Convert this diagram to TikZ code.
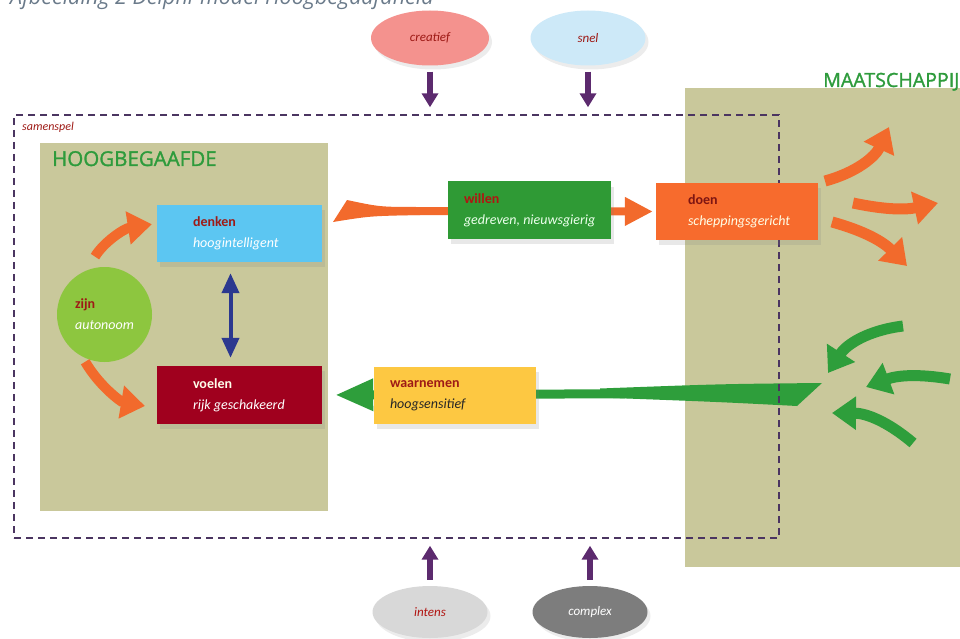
\documentclass[tikz,border=0pt]{standalone}
\usepackage{fontspec}
\setmainfont{Carlito}
\newfontfamily\titlefont[FakeBold=1.4]{Open Sans}
\newfontfamily\captionfont{Open Sans}
\usetikzlibrary{arrows.meta,positioning,shapes.geometric,shadows}

\definecolor{olive}{HTML}{C9C89B}
\definecolor{titlegreen}{HTML}{2E9B3C}
\definecolor{framepurple}{HTML}{4B3561}
\definecolor{arrowpurple}{HTML}{5C2A6E}
\definecolor{labelred}{HTML}{9E1A16}
\definecolor{flowred}{HTML}{F26A2C}
\definecolor{flowgreen}{HTML}{2E9E3B}
\definecolor{denkenblue}{HTML}{5CC6F2}
\definecolor{voelenred}{HTML}{A0001E}
\definecolor{zijngreen}{HTML}{8DC63F}
\definecolor{willengreen}{HTML}{2F9A35}
\definecolor{doenorange}{HTML}{F76B2D}
\definecolor{waarneemgeel}{HTML}{FDC842}
\definecolor{creatiefpink}{HTML}{F4928E}
\definecolor{snelblue}{HTML}{CDE9F8}
\definecolor{intensgrey}{HTML}{D8D8D8}
\definecolor{complexgrey}{HTML}{7D7D7D}
\definecolor{captiongrey}{HTML}{6A7A8A}
\definecolor{arrowblue}{HTML}{2B388F}

\begin{document}
\begin{tikzpicture}[x=1pt,y=-1pt,
	olivebox/.style={rectangle, fill=olive, inner sep=0pt},
	bigtitle/.style={anchor=base west, inner sep=0pt, text=titlegreen, font=\titlefont\fontsize{20.5}{22}\selectfont},
	box/.style={rectangle, inner sep=0pt, minimum width=163pt, minimum height=57pt,
		drop shadow={opacity=.18, shadow xshift=3pt, shadow yshift=-5pt}},
	boxtext/.style={inner sep=0pt, align=left, font=\fontsize{14}{21}\selectfont},
	oval/.style={ellipse, inner sep=0pt, minimum width=118pt, minimum height=55pt,
		font=\itshape\fontsize{13}{15}\selectfont,
		drop shadow={opacity=.15, shadow xshift=3pt, shadow yshift=-4pt}},
	pushdown/.style={arrowpurple, line width=6pt, -{Triangle[length=14pt,width=16pt]}},
	flowO/.style={flowred, line width=8pt, -{Triangle[length=28pt,width=27pt]}},
	flowG/.style={flowgreen, line width=9pt, -{Triangle[length=38pt,width=30pt]}},
	fanO/.style={flowred, line width=11pt, -{Triangle[length=24pt,width=32pt]}},
	fanG/.style={flowgreen, line width=11pt, -{Triangle[length=24pt,width=32pt]}},
	both/.style={arrowblue, line width=4pt, {Triangle[length=20pt,width=17pt]}-{Triangle[length=20pt,width=17pt]}}]

	\useasboundingbox (0,0) rectangle (960,639);
	\clip (0,0) rectangle (960,639);

	% caption, cut off at the top
	\node[anchor=base west, inner sep=0pt, text=captiongrey, font=\captionfont\itshape\fontsize{21.5}{24}\selectfont] (caption) at (10,5) {Afbeelding 2 Delphi-model Hoogbegaafdheid};

	% the two fields
	\node[olivebox, minimum width=288pt, minimum height=368pt] (hoog) at (184,327) {};
	\node[bigtitle] (hoogtitle) at (52,166) {HOOGBEGAAFDE};
	\node[olivebox, minimum width=300pt, minimum height=479pt] (maatschappij) at (835,327.5) {};
	\node[bigtitle, font=\titlefont\fontsize{19.6}{22}\selectfont] (maattitle) at (823,87) {MAATSCHAPPIJ};

	% inner boxes
	\node[box, fill=denkenblue, minimum width=165pt] (denken) at (239.5,233.5) {};
	\node[boxtext, right=36pt of denken.west] (denkentxt) {{\bfseries\color{labelred}denken}\\{\itshape\color{white}hoogintelligent}};
	\node[box, fill=voelenred, minimum width=165pt, minimum height=58pt] (voelen) at (239.5,395) {};
	\node[boxtext, right=36pt of voelen.west] (voelentxt) {{\bfseries\color{white!92!yellow}voelen}\\{\itshape\color{white}rijk geschakeerd}};
	\node[circle, fill=zijngreen, minimum size=95pt, inner sep=0pt, align=left, font=\fontsize{14}{21}\selectfont] (zijn) at (104.5,314.5) {{\bfseries\color{labelred}zijn}\\{\itshape\color{white}autonoom}};

	\draw[fanO, line width=10pt, bend left=25, shorten <=16pt, shorten >=5pt] (zijn.112) to ([shift={(0,-10)}]denken.west);
	\draw[fanO, line width=10pt, bend right=25, shorten <=6pt, shorten >=12pt] (zijn.242) to ([shift={(0,13)}]voelen.west);
	\draw[both, shorten <=11pt, shorten >=8pt] ([xshift=-9pt]denken.south) -- ([xshift=-9pt]voelen.north);

	% green flow from outside to voelen
	\coordinate (gtail) at (805,393);
	\fill[flowgreen] (822,383) .. controls (720,384) .. (600,388.5) -- (600,397.5) .. controls (720,402) .. (797,406) -- cycle;
	\draw[flowG, shorten >=13pt] (gtail) -- (voelen.east);

	% samenspel frame
	\node[rectangle, draw=framepurple, line width=1.4pt, dash pattern=on 7pt off 5pt, minimum width=765pt, minimum height=423pt] (samenspel) at (396.5,326.5) {};
	\node[anchor=base west, inner sep=0pt, text=labelred, font=\itshape\fontsize{12}{14}\selectfont] (samenspeltxt) at (22,131) {samenspel};

	\node[box, fill=doenorange, minimum width=162pt] (doen) at (737,211.5) {};
	\node[boxtext, right=32pt of doen.west] (doentxt) {{\bfseries\color{labelred!80!black}doen}\\{\itshape\color{white!90!yellow}scheppingsgericht}};

	% orange flow from denken to doen
	\coordinate (otail) at (345,211);
	\fill[flowred] (347,200) .. controls (380,207) .. (420,207) -- (420,215) .. controls (370,216) .. (333,222) -- cycle;
	\draw[flowO, shorten >=3pt] (otail) -- (doen.west);

	\node[box, fill=willengreen] (willen) at (529.5,210) {};
	\node[boxtext, right=16pt of willen.west] (willentxt) {{\bfseries\color{labelred!80!red}willen}\\{\itshape\color{white!92!green}gedreven, nieuwsgierig}};
	\node[box, fill=waarneemgeel, minimum width=162pt] (waarnemen) at (455,395.5) {};
	\node[boxtext, right=16pt of waarnemen.west] (waarnementxt) {{\bfseries\color{labelred}waarnemen}\\{\itshape\color{black!85}hoogsensitief}};

	% arrows out to the society
	\coordinate (of1s) at (825,181);  \coordinate (of1e) at (889,127);
	\coordinate (of2s) at (853,203);  \coordinate (of2e) at (938,203);
	\coordinate (of3s) at (832,222);  \coordinate (of3e) at (907,266);
	\draw[fanO, bend right=25] (of1s) to (of1e);
	\draw[fanO, bend right=12] (of2s) to (of2e);
	\draw[fanO, bend left=15] (of3s) to (of3e);

	% arrows in from the society
	\coordinate (gf1s) at (903,326);  \coordinate (gf1e) at (828,373);
	\coordinate (gf2s) at (950,379);  \coordinate (gf2e) at (866,387);
	\coordinate (gf3s) at (913,443);  \coordinate (gf3e) at (832,413);
	\draw[fanG, bend right=25] (gf1s) to (gf1e);
	\draw[fanG, bend right=15] (gf2s) to (gf2e);
	\draw[fanG, bend right=20] (gf3s) to (gf3e);

	% influences from above and below
	\node[oval, fill=creatiefpink, text=labelred] (creatief) at (430,38) {creatief};
	\node[oval, fill=snelblue, text=labelred, minimum width=115pt] (snel) at (588,38) {snel};
	\node[oval, fill=intensgrey, text=labelred!80!red, minimum width=115pt, minimum height=52pt] (intens) at (430,612) {intens};
	\node[oval, fill=complexgrey, text=white, minimum width=115pt, minimum height=52pt] (complex) at (590,612) {complex};

	\draw[pushdown, shorten <=6pt, shorten >=7pt] (creatief.south) -- (creatief.south |- samenspel.north);
	\draw[pushdown, shorten <=6pt, shorten >=7pt] (snel.south) -- (snel.south |- samenspel.north);
	\draw[pushdown, shorten <=6pt, shorten >=7pt] (intens.north) -- (intens.north |- samenspel.south);
	\draw[pushdown, shorten <=6pt, shorten >=7pt] (complex.north) -- (complex.north |- samenspel.south);
\end{tikzpicture}
\end{document}
